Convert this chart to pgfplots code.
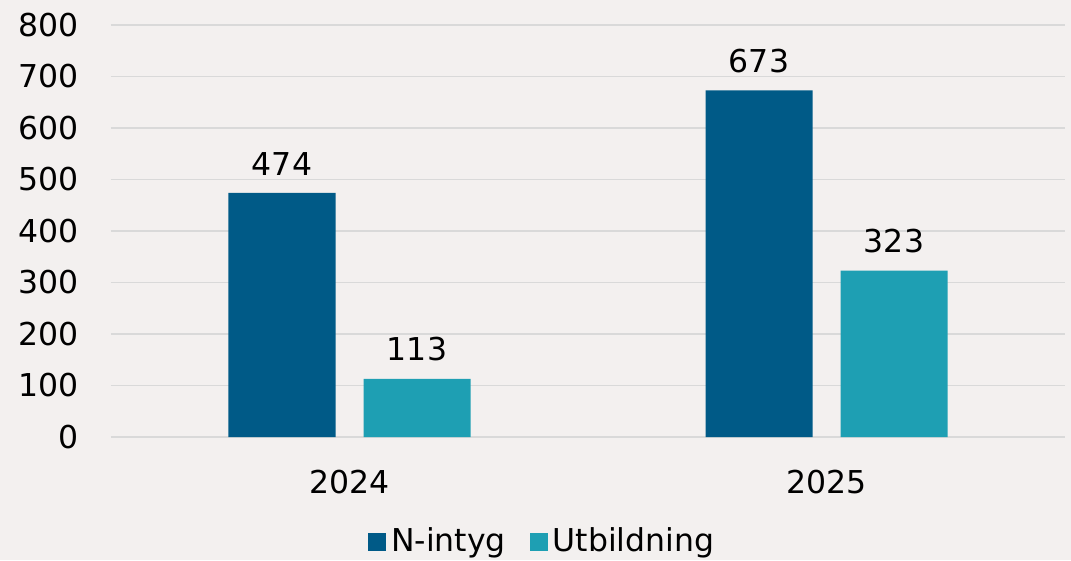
\documentclass[border=0pt]{standalone}
\usepackage{pgfplots}
\pgfplotsset{compat=1.18}
\usepackage{fontspec}
\setmainfont{DejaVu Sans}
\definecolor{bgcol}{HTML}{F3F0EF}
\definecolor{gridcol}{HTML}{D9D9D9}
\definecolor{dblue}{HTML}{005A87}
\definecolor{teal}{HTML}{1E9FB3}
\begin{document}
\fontsize{31.5}{37}\selectfont
\begin{tikzpicture}
\fill[bgcol] (-111pt,-123pt) rectangle (960pt,437pt);
\begin{axis}[
  at={(0,0)}, anchor=south west,
  scale only axis, width=954pt, height=412pt,
  xmin=-0.5, xmax=1.5, ymin=0, ymax=800,
  xtick={0,1}, xticklabels={2024,2025},
  ytick={0,100,...,800},
  ymajorgrids, grid style={gridcol, line width=1.5pt},
  axis line style={draw=none},
  tick style={draw=none},
  /pgf/number format/assume math mode=true,
  yticklabel style={xshift=-22pt},
  xticklabel style={yshift=-18pt},
  ybar=28pt, bar width=107pt,
  nodes near coords,
  nodes near coords style={font=\fontsize{31.5}{37}\selectfont, yshift=7pt},
  every axis plot/.append style={draw=none},
  legend columns=2,
  legend style={at={(0.452,-0.255)}, anchor=center, draw=none, fill=none,
    /tikz/every odd column/.append style={column sep=3pt},
    /tikz/every even column/.append style={column sep=22pt}},
  legend image code/.code={\fill[#1] (0pt,-9pt) rectangle (18pt,9pt);},
]
\addplot[fill=dblue] coordinates {(0,474) (1,673)};
\addplot[fill=teal] coordinates {(0,113) (1,323)};
\legend{N-intyg,Utbildning}
\end{axis}
\end{tikzpicture}
\end{document}
